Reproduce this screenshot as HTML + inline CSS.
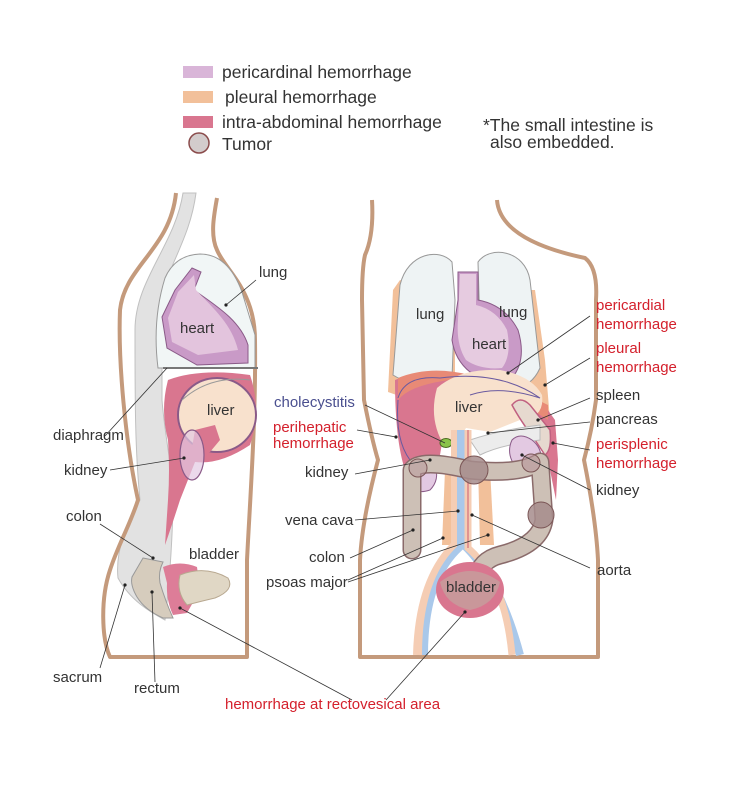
<!DOCTYPE html>
<html><head><meta charset="utf-8"><style>
html,body{margin:0;padding:0;background:#fff;}
svg{display:block;}
text{font-family:"Liberation Sans",sans-serif;font-size:15px;fill:#333;}
.r{fill:#d4202c;}
.b{fill:#4a4f8f;}
.l{stroke:#333;stroke-width:0.8;fill:none;}
</style></head><body>
<svg width="730" height="800" viewBox="0 0 730 800" xmlns="http://www.w3.org/2000/svg">
<!-- legend -->
<rect x="183" y="66" width="30" height="12" fill="#d9b5d8"/>
<rect x="183" y="91" width="30" height="12" fill="#f2c09a"/>
<rect x="183" y="116" width="30" height="12" fill="#d9768f"/>
<circle cx="199" cy="143" r="10" fill="#d3cccc" stroke="#8b4c4c" stroke-width="1.5"/>
<text x="222" y="78" style="font-size:17.5px">pericardinal hemorrhage</text>
<text x="225" y="103" style="font-size:17.5px">pleural hemorrhage</text>
<text x="222" y="128" style="font-size:17.5px">intra-abdominal hemorrhage</text>
<text x="222" y="150" style="font-size:17.5px">Tumor</text>
<text x="483" y="131" style="font-size:17.5px">*The small intestine is</text>
<text x="490" y="148" style="font-size:17.5px">also embedded.</text>

<!-- SIDE VIEW -->
<path d="M183,193 L196,193 C190,240 165,270 162,300 L162,400 C165,440 175,480 173,510 C172,540 170,580 165,620 C150,612 130,600 118,578 C115,550 128,520 140,500 C135,450 135,400 135,330 C135,280 175,245 183,193 Z" fill="#e2e2e2" stroke="#c0c0c0" stroke-width="1"/>
<path d="M176,193 C170,250 125,265 120,310 C118,360 125,440 138,500 C130,525 118,545 110,570 C100,600 102,640 110,657 L247,657 L247,560 C250,500 256,420 255,340 C255,290 225,270 217,250 C210,235 214,215 217,198" fill="none" stroke="#c49a7c" stroke-width="4" stroke-linejoin="round"/>
<!-- lung -->
<path d="M165,278 Q175,255 200,254 Q228,254 242,292 L255,335 L255,368 L158,368 Q152,320 165,278 Z" fill="#f1f6f6" stroke="#999" stroke-width="1"/>
<path d="M192,268 L201,272 L194,290 C215,305 240,320 248,345 L248,363 L197,365 L167,348 L162,317 L175,290 Z" fill="#c99ac7" stroke="#8a5a88" stroke-width="1"/>
<path d="M194,275 L196,290 C215,310 232,325 238,350 L198,355 L172,342 L168,318 L178,292 Z" fill="#e3c4dd"/>
<path d="M163,368 L258,368" stroke="#777" stroke-width="2"/>
<!-- hemorrhage liver -->
<path d="M168,380 Q200,368 250,375 Q262,410 250,445 Q220,465 195,462 L180,500 Q172,525 165,545 L168,500 Q170,470 168,440 Q160,410 168,380 Z" fill="#d9768f"/>
<ellipse cx="217" cy="415" rx="39" ry="37" fill="#f8e1cd" stroke="#8a5a88" stroke-width="2"/>
<path d="M182,400 Q210,375 250,380" stroke="#999" fill="none"/>
<path d="M195,430 L215,425 L220,440 L210,452 L190,460 Z" fill="#d9768f"/>
<ellipse cx="192" cy="455" rx="12" ry="25" fill="#e3c9e2" fill-opacity="0.7" stroke="#8a5a88" stroke-width="1.2"/>
<!-- rectum & bladder -->
<path d="M143,558 L163,562 Q158,572 160,583 Q165,600 173,618 L163,618 Q145,610 137,597 Q130,585 132,577 Z" fill="#d6ccbd" stroke="#999" stroke-width="1"/>
<path d="M163,567 Q180,560 197,567 L200,590 L187,613 L173,615 Q166,600 167,583 Z" fill="#dd7d98"/>
<path d="M180,575 Q205,565 228,578 Q235,590 215,598 Q198,602 187,605 Q176,592 180,575 Z" fill="#e0d7c5" stroke="#b8a890" stroke-width="1"/>

<!-- FRONT VIEW -->
<path d="M372,200 Q374,235 365,255 Q362,268 362,300 L364,400 Q372,440 378,460 Q362,520 360,560 L360,657 L598,657 L598,560 Q596,520 584,460 Q592,430 596,400 L596,300 Q598,268 585,258 Q500,240 497,200" fill="none" stroke="#c49a7c" stroke-width="4" stroke-linejoin="round"/>
<!-- pleural orange -->
<path d="M393,290 L400,280 L455,300 L455,388 L405,398 L388,392 Z" fill="#f2c09a"/>
<path d="M478,290 L535,290 L545,360 L550,420 L530,405 L480,385 Z" fill="#f2c09a"/>
<path d="M452,262 C440,248 408,252 400,285 L393,375 Q420,392 452,378 L455,300 Z" fill="#eef3f4" stroke="#999" stroke-width="1"/>
<path d="M478,262 C490,245 525,250 530,280 L540,368 Q530,390 510,386 L480,330 Z" fill="#eef3f4" stroke="#999" stroke-width="1"/>
<!-- heart -->
<path d="M458,272 L478,272 L478,300 Q505,305 518,330 Q527,360 512,378 Q490,382 470,372 Q455,360 452,340 L458,300 Z" fill="#c99ac7" stroke="#8a5a88" stroke-width="1"/>
<path d="M460,274 L476,274 L476,305 Q497,310 507,330 Q512,355 502,368 Q480,370 466,360 Q456,345 458,320 Z" fill="#e6cbe0"/>
<!-- abdominal hemorrhage -->
<path d="M395,380 Q420,370 455,372 L440,400 Q445,430 440,455 L425,470 L410,500 L405,470 Q395,440 395,380 Z" fill="#d9768f"/>
<path d="M398,378 Q430,365 470,375 L450,380 Q410,385 398,400 Z" fill="#e88a76"/>
<path d="M508,400 Q520,390 535,392 L555,420 L558,460 L556,500 L548,460 Z" fill="#d9768f"/>
<path d="M480,385 Q520,390 548,405 L548,420 Q520,400 480,392 Z" fill="#e88a76"/>
<!-- liver -->
<path d="M437,388 Q460,368 500,370 Q532,376 542,395 Q545,418 520,420 L490,432 L466,428 Q455,447 445,447 Q428,420 437,388 Z" fill="#f8e1cd"/>
<path d="M398,398 Q405,375 440,378 Q500,370 540,398 Q500,385 470,395" stroke="#6a5aa0" stroke-width="1" fill="none"/>
<path d="M398,400 Q395,440 410,460" stroke="#6a5aa0" stroke-width="1" fill="none"/>
<!-- spleen/pancreas -->
<path d="M512,405 Q520,395 530,405 L550,430 Q552,450 545,455 L535,440 Q520,420 512,405 Z" fill="#e6d9cf" stroke="#c06080" stroke-width="1.5"/>
<path d="M470,440 Q500,430 540,425 L540,440 Q500,445 480,455 Z" fill="#ececec" stroke="#bbb" stroke-width="1"/>
<!-- kidneys -->
<path d="M410,470 Q420,455 435,465 Q440,480 430,490 Q415,495 410,485 Z" fill="#e3c9e2" stroke="#8a5a88" stroke-width="1"/>
<path d="M512,440 Q520,432 532,440 Q545,450 540,470 Q528,478 518,470 Q505,455 512,440 Z" fill="#e3c9e2" stroke="#8a5a88" stroke-width="1"/>
<!-- gallbladder -->
<ellipse cx="446" cy="443" rx="6" ry="4.5" fill="#8bc34a" stroke="#4a6a20"/>
<!-- psoas -->
<path d="M445,470 L457,465 L458,545 L442,545 Z" fill="#f2c09a"/>
<path d="M478,465 L490,468 L494,545 L480,545 Z" fill="#f2c09a"/>
<!-- iliac vessels -->
<path d="M456,430 L456,545 Q420,580 418,655" fill="none" stroke="#f5cdb4" stroke-width="10"/>
<path d="M464,430 L464,545 Q500,580 520,655" fill="none" stroke="#a9c8ea" stroke-width="8"/>
<path d="M460,430 L460,548 Q425,580 425,655" fill="none" stroke="#a9c8ea" stroke-width="6"/>
<path d="M468,430 L468,548 Q505,580 512,655" fill="none" stroke="#f5cdb4" stroke-width="7"/>
<path d="M468,430 L468,548" stroke="#c04060" stroke-width="0.8"/>
<!-- colon -->
<path d="M412,550 L412,470 Q420,458 470,470 Q520,475 540,462 L544,520 Q540,545 500,555 Q480,560 476,580" fill="none" stroke="#8a6a6a" stroke-width="19" stroke-linecap="round" stroke-linejoin="round"/>
<path d="M412,550 L412,470 Q420,458 470,470 Q520,475 540,462 L544,520 Q540,545 500,555 Q480,560 476,580" fill="none" stroke="#cdc0b6" stroke-width="16" stroke-linecap="round" stroke-linejoin="round"/>
<circle cx="474" cy="470" r="14" fill="#a68c8c" fill-opacity="0.85" stroke="#7a5555"/>
<circle cx="541" cy="515" r="13" fill="#a68c8c" fill-opacity="0.85" stroke="#7a5555"/>
<circle cx="531" cy="463" r="9" fill="#b8959a" fill-opacity="0.6" stroke="#7a5555"/>
<circle cx="418" cy="468" r="9" fill="#b8959a" fill-opacity="0.5" stroke="#7a5555"/>
<!-- bladder -->
<ellipse cx="470" cy="590" rx="34" ry="28" fill="#d9768f"/>
<path d="M440,582 Q470,560 500,582 Q495,605 470,610 Q445,605 440,582 Z" fill="#c9979a"/>

<!-- leader lines -->
<g class="l">
<path d="M256,280 L226,305"/><path d="M105,436 L167,368"/><path d="M110,470 L184,458"/>
<path d="M100,524 L153,558"/><path d="M100,668 L125,585"/><path d="M155,682 L152,592"/>
<path d="M180,608 L352,700"/><path d="M465,612 L386,700"/>
<path d="M365,405 L445,443"/><path d="M357,430 L396,437"/><path d="M355,474 L430,460"/>
<path d="M355,520 L458,511"/><path d="M472,515 L590,568"/><path d="M350,558 L413,530"/>
<path d="M348,580 L443,538"/><path d="M348,582 L488,535"/>
<path d="M590,316 L508,373"/><path d="M590,358 L545,385"/><path d="M590,398 L538,420"/>
<path d="M590,422 L488,433"/><path d="M590,450 L553,443"/><path d="M590,490 L522,455"/>
</g>
<g fill="#222">
<circle cx="226" cy="305" r="1.6"/><circle cx="153" cy="558" r="1.6"/><circle cx="125" cy="585" r="1.6"/><circle cx="152" cy="592" r="1.6"/><circle cx="180" cy="608" r="1.6"/><circle cx="184" cy="458" r="1.6"/>
<circle cx="465" cy="612" r="1.6"/><circle cx="396" cy="437" r="1.6"/><circle cx="430" cy="460" r="1.6"/><circle cx="458" cy="511" r="1.6"/><circle cx="472" cy="515" r="1.6"/><circle cx="413" cy="530" r="1.6"/><circle cx="443" cy="538" r="1.6"/><circle cx="488" cy="535" r="1.6"/><circle cx="508" cy="373" r="1.6"/><circle cx="545" cy="385" r="1.6"/><circle cx="538" cy="420" r="1.6"/><circle cx="488" cy="433" r="1.6"/><circle cx="553" cy="443" r="1.6"/><circle cx="522" cy="455" r="1.6"/>
</g>

<!-- labels side -->
<text x="259" y="277">lung</text>
<text x="180" y="333">heart</text>
<text x="207" y="415">liver</text>
<text x="53" y="440">diaphragm</text>
<text x="64" y="475">kidney</text>
<text x="66" y="521">colon</text>
<text x="189" y="559">bladder</text>
<text x="53" y="682">sacrum</text>
<text x="134" y="693">rectum</text>
<text x="225" y="709" class="r">hemorrhage at rectovesical area</text>
<!-- labels front -->
<text x="416" y="319">lung</text>
<text x="499" y="317">lung</text>
<text x="472" y="349">heart</text>
<text x="455" y="412">liver</text>
<text x="274" y="407" class="b">cholecystitis</text>
<text x="273" y="432" class="r">perihepatic</text>
<text x="273" y="448" class="r">hemorrhage</text>
<text x="305" y="477">kidney</text>
<text x="285" y="525">vena cava</text>
<text x="309" y="562">colon</text>
<text x="266" y="587">psoas major</text>
<text x="446" y="592">bladder</text>
<text x="596" y="310" class="r">pericardial</text>
<text x="596" y="329" class="r">hemorrhage</text>
<text x="596" y="353" class="r">pleural</text>
<text x="596" y="372" class="r">hemorrhage</text>
<text x="596" y="400">spleen</text>
<text x="596" y="424">pancreas</text>
<text x="596" y="449" class="r">perisplenic</text>
<text x="596" y="468" class="r">hemorrhage</text>
<text x="596" y="495">kidney</text>
<text x="597" y="575">aorta</text>
</svg>
</body></html>
